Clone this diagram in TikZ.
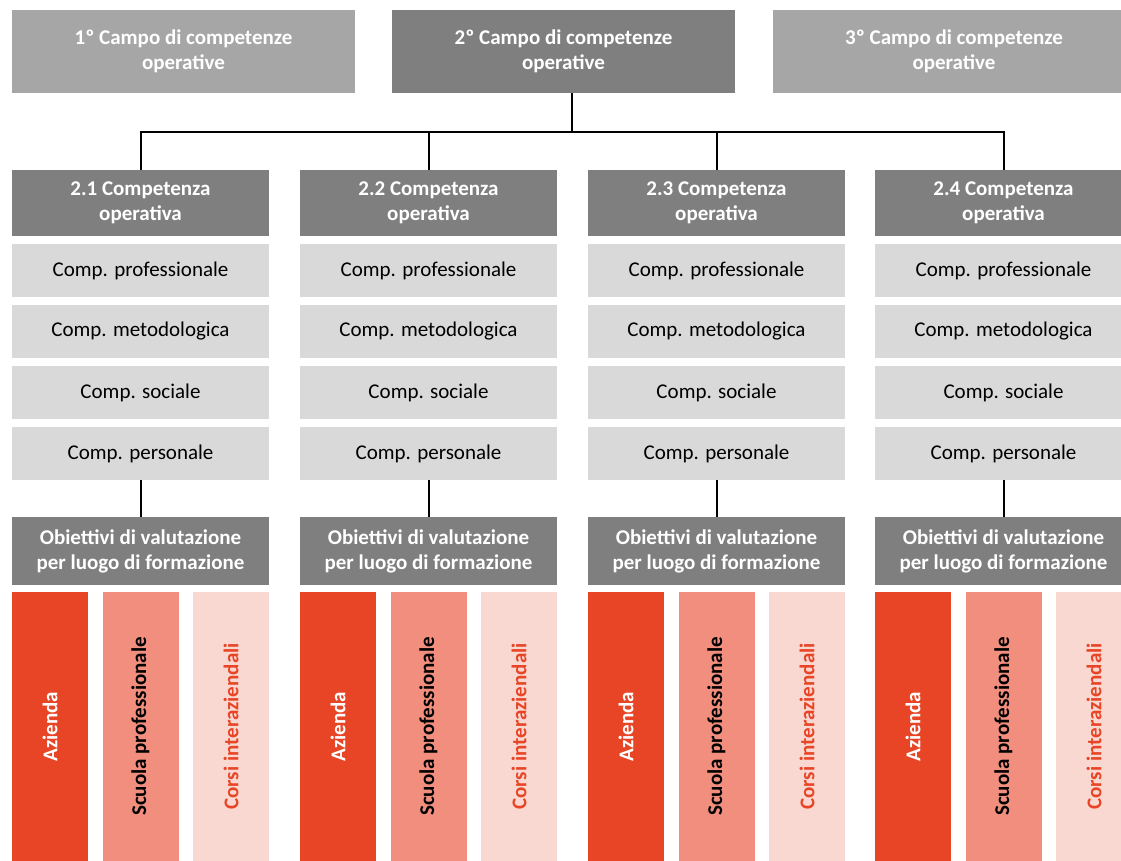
\documentclass[tikz,border=0pt]{standalone}
\usepackage{fontspec}
\setmainfont{Carlito}
\usetikzlibrary{positioning}
\definecolor{lightgray}{HTML}{A6A6A6}
\definecolor{darkgray}{HTML}{7F7F7F}
\definecolor{rowgray}{HTML}{D9D9D9}
\definecolor{redbar}{HTML}{E84527}
\definecolor{salmonbar}{HTML}{F18E7E}
\definecolor{palebar}{HTML}{F9D8D1}

\begin{document}
\begin{tikzpicture}[x=1pt, y=-1pt, node distance=8pt,
             font=\fontsize{21}{25}\selectfont,
              base/.style = {rectangle, inner sep=0pt, outer sep=0pt, align=center},
             field/.style = {base, fill=lightgray, text=white, font=\fontsize{21}{25}\selectfont\bfseries, minimum width=343pt, minimum height=83pt},
              head/.style = {base, fill=darkgray, text=white, font=\fontsize{21}{25}\selectfont\bfseries, minimum width=257pt, minimum height=66pt},
              comp/.style = {base, fill=rowgray, minimum width=257pt, minimum height=53pt},
               bar/.style = {base, rotate=90, font=\fontsize{21}{25}\selectfont\bfseries, minimum width=269pt, minimum height=76pt},
              link/.style = {draw, line width=2pt},
]
\clip (0,0) rectangle (1121,861);
\node [field]                  (f1)  at (183.5,51.5) {1º Campo di competenze\\operative};
\node [field, fill=darkgray]   (f2)  at (563.5,51.5) {2º Campo di competenze\\operative};
\node [field, minimum width=362pt] (f3)  at (954,51.5) {3º Campo di competenze\\operative};
\coordinate (bus) at (572,132);
\path[link] (bus) -- (bus |- f2.south);
%% one column per operative competence
\foreach \i/\x in {1/140.5, 2/428.5, 3/716.5, 4/1003.5} {
  \node [head]                         (h\i)  at (\x,203) {2.\i{} Competenza\\operativa};
  \node [comp, below=of h\i]           (p\i)  {Comp. professionale};
  \node [comp, below=of p\i]           (m\i)  {Comp. metodologica};
  \node [comp, below=of m\i]           (s\i)  {Comp. sociale};
  \node [comp, below=of s\i]           (q\i)  {Comp. personale};
  \node [head, minimum height=68pt, below=37pt of q\i] (o\i)  {Obiettivi di valutazione\\per luogo di formazione};
  \node [bar, fill=redbar, text=white]   (a\i)  at (\x-90.5,726.5) {Azienda};
  \node [bar, fill=salmonbar, text=black] (b\i) at (\x,726.5)      {Scuola professionale};
  \node [bar, fill=palebar, text=redbar]  (c\i) at (\x+90.5,726.5) {Corsi interaziendali};
  \path[link] (h\i.north) |- (bus)
              (q\i.south) -- (o\i.north);
}
\end{tikzpicture}
\end{document}
